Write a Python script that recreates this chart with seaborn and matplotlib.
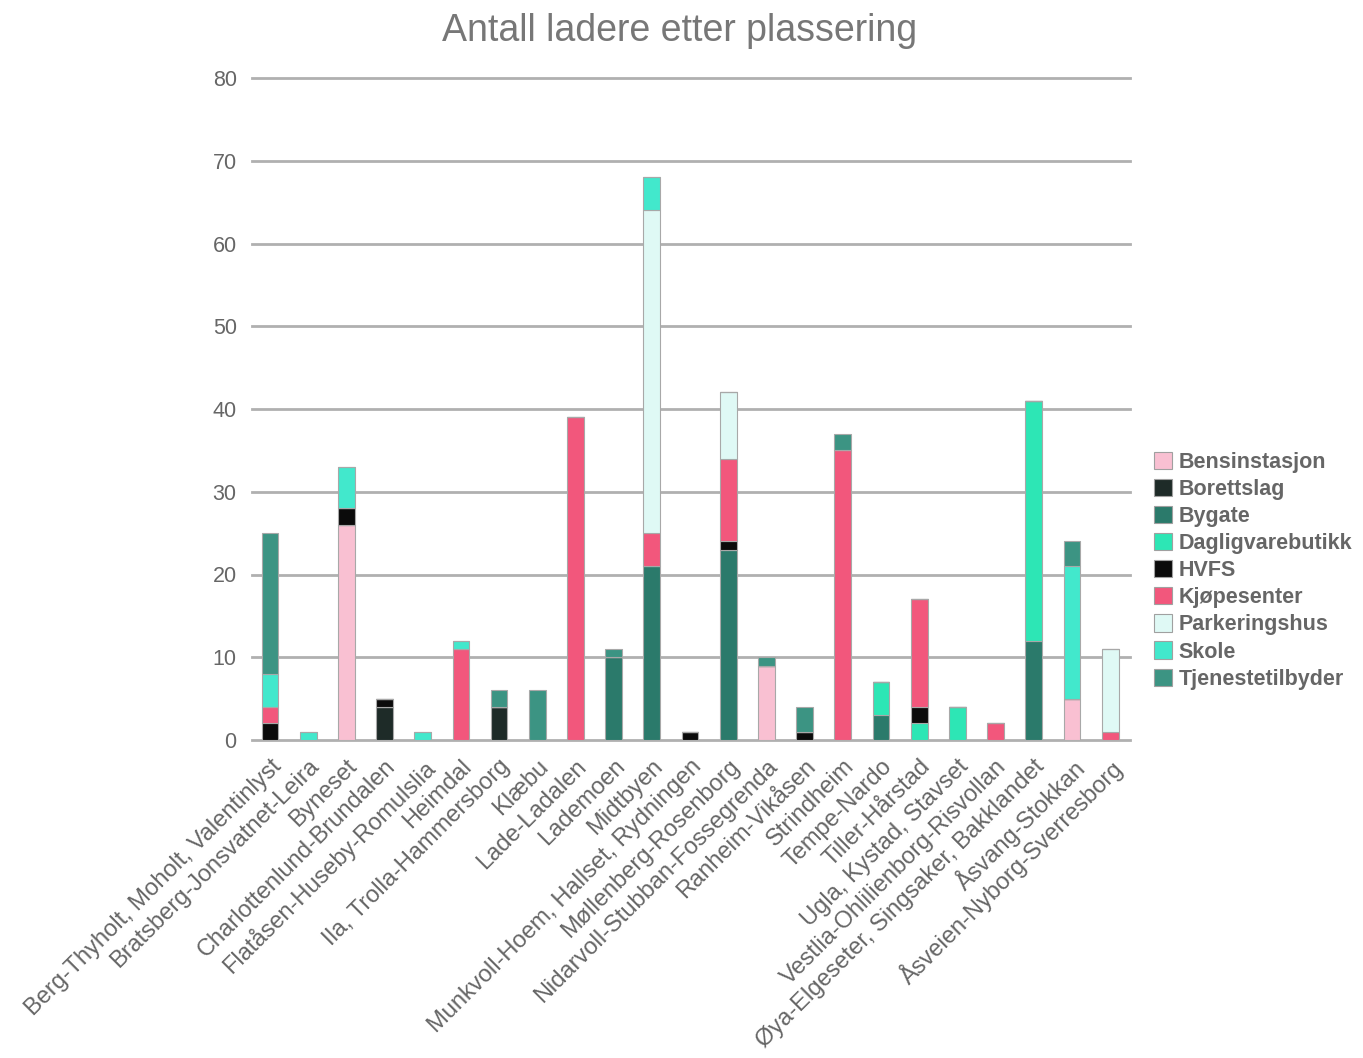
import matplotlib
matplotlib.use("Agg")
import matplotlib.pyplot as plt
from matplotlib.patches import Patch
import seaborn as sns
import pandas as pd

areas = [
    "Berg-Thyholt, Moholt, Valentinlyst",
    "Bratsberg-Jonsvatnet-Leira",
    "Byneset",
    "Charlottenlund-Brundalen",
    "Flatåsen-Huseby-Romulslia",
    "Heimdal",
    "Ila, Trolla-Hammersborg",
    "Klæbu",
    "Lade-Ladalen",
    "Lademoen",
    "Midtbyen",
    "Munkvoll-Hoem, Hallset, Rydningen",
    "Møllenberg-Rosenborg",
    "Nidarvoll-Stubban-Fossegrenda",
    "Ranheim-Vikåsen",
    "Strindheim",
    "Tempe-Nardo",
    "Tiller-Hårstad",
    "Ugla, Kystad, Stavset",
    "Vestlia-Ohlilienborg-Risvollan",
    "Øya-Elgeseter, Singsaker, Bakklandet",
    "Åsvang-Stokkan",
    "Åsveien-Nyborg-Sverresborg",
]

types = ["Bensinstasjon", "Borettslag", "Bygate", "Dagligvarebutikk", "HVFS",
         "Kjøpesenter", "Parkeringshus", "Skole", "Tjenestetilbyder"]

bensinstasjon    = [0, 0, 26, 0, 0, 0, 0, 0, 0, 0, 0, 0, 0, 9, 0, 0, 0, 0, 0, 0, 0, 5, 0]
borettslag       = [0, 0, 0, 4, 0, 0, 4, 0, 0, 0, 0, 0, 0, 0, 0, 0, 0, 0, 0, 0, 0, 0, 0]
bygate           = [0, 0, 0, 0, 0, 0, 0, 0, 0, 10, 21, 0, 23, 0, 0, 0, 3, 0, 0, 0, 12, 0, 0]
dagligvarebutikk = [0, 0, 0, 0, 0, 0, 0, 0, 0, 0, 0, 0, 0, 0, 0, 0, 4, 2, 4, 0, 29, 0, 0]
hvfs             = [2, 0, 2, 1, 0, 0, 0, 0, 0, 0, 0, 1, 1, 0, 1, 0, 0, 2, 0, 0, 0, 0, 0]
kjopesenter      = [2, 0, 0, 0, 0, 11, 0, 0, 39, 0, 4, 0, 10, 0, 0, 35, 0, 13, 0, 2, 0, 0, 1]
parkeringshus    = [0, 0, 0, 0, 0, 0, 0, 0, 0, 0, 39, 0, 8, 0, 0, 0, 0, 0, 0, 0, 0, 0, 10]
skole            = [4, 1, 5, 0, 1, 1, 0, 0, 0, 0, 4, 0, 0, 0, 0, 0, 0, 0, 0, 0, 0, 16, 0]
tjenestetilbyder = [17, 0, 0, 0, 0, 0, 2, 6, 0, 1, 0, 0, 0, 1, 3, 2, 0, 0, 0, 0, 0, 3, 0]

colors = ["#f9c0d2", "#1e2b28", "#2b7a6b", "#2de6b5", "#0b0b0b",
          "#f2577c", "#dff9f5", "#42e8cc", "#3c9483"]

series = [bensinstasjon, borettslag, bygate, dagligvarebutikk, hvfs,
          kjopesenter, parkeringshus, skole, tjenestetilbyder]

rows = []
for i, a in enumerate(areas):
    for t, s in zip(types, series):
        if s[i] > 0:
            rows.append({"område": a, "type": t, "antall": s[i]})
df = pd.DataFrame(rows)
df["område"] = pd.Categorical(df["område"], categories=areas, ordered=True)

palette = dict(zip(types, colors))

plt.rcParams["font.family"] = ["Liberation Sans", "DejaVu Sans"]

fig = plt.figure(figsize=(13.63, 10.58), dpi=100)
ax = fig.add_axes([252 / 1363, 1 - 740 / 1058, (1130 - 252) / 1363, (740 - 78) / 1058])

sns.histplot(data=df, x="område", hue="type", weights="antall",
             hue_order=types[::-1], palette=palette, multiple="stack",
             discrete=True, shrink=0.44, alpha=1, edgecolor="#a8a8a8",
             linewidth=0.8, legend=False, ax=ax, zorder=3)

ax.set_xlim(-0.47, 22.52)
ax.set_ylim(0, 80)
ax.set_yticks(range(0, 81, 10))
ax.set_xticks(range(len(areas)))
ax.set_xticklabels(areas, rotation=45, ha="right", rotation_mode="anchor")
ax.tick_params(axis="both", length=0, labelcolor="#666666")
ax.tick_params(axis="y", pad=11, labelsize=15.5)
ax.tick_params(axis="x", pad=11, labelsize=17)
ax.set_xlabel("")
ax.set_ylabel("")
for sp in ax.spines.values():
    sp.set_visible(False)
ax.yaxis.grid(True, color="#b0b0b0", linewidth=2)
ax.xaxis.grid(False)
ax.set_axisbelow(True)
for ln in ax.get_ygridlines():
    ln.set_clip_on(False)

fig.text(680 / 1363, 1 - 31 / 1058, "Antall ladere etter plassering",
         ha="center", va="center", fontsize=27, color="#777777")

handles = [Patch(facecolor=c, edgecolor="#a0a0a0", linewidth=0.8) for c in colors]
fig.legend(handles, types, loc="upper left", bbox_to_anchor=(1154 / 1363, 1 - 452 / 1058),
           frameon=False, handlelength=0.85, handleheight=0.85,
           handletextpad=0.3, labelspacing=0.28, borderaxespad=0, borderpad=0,
           prop={"weight": "bold", "size": 15.5}, labelcolor="#666666")

fig.savefig("out.png", dpi=100, facecolor="white")
